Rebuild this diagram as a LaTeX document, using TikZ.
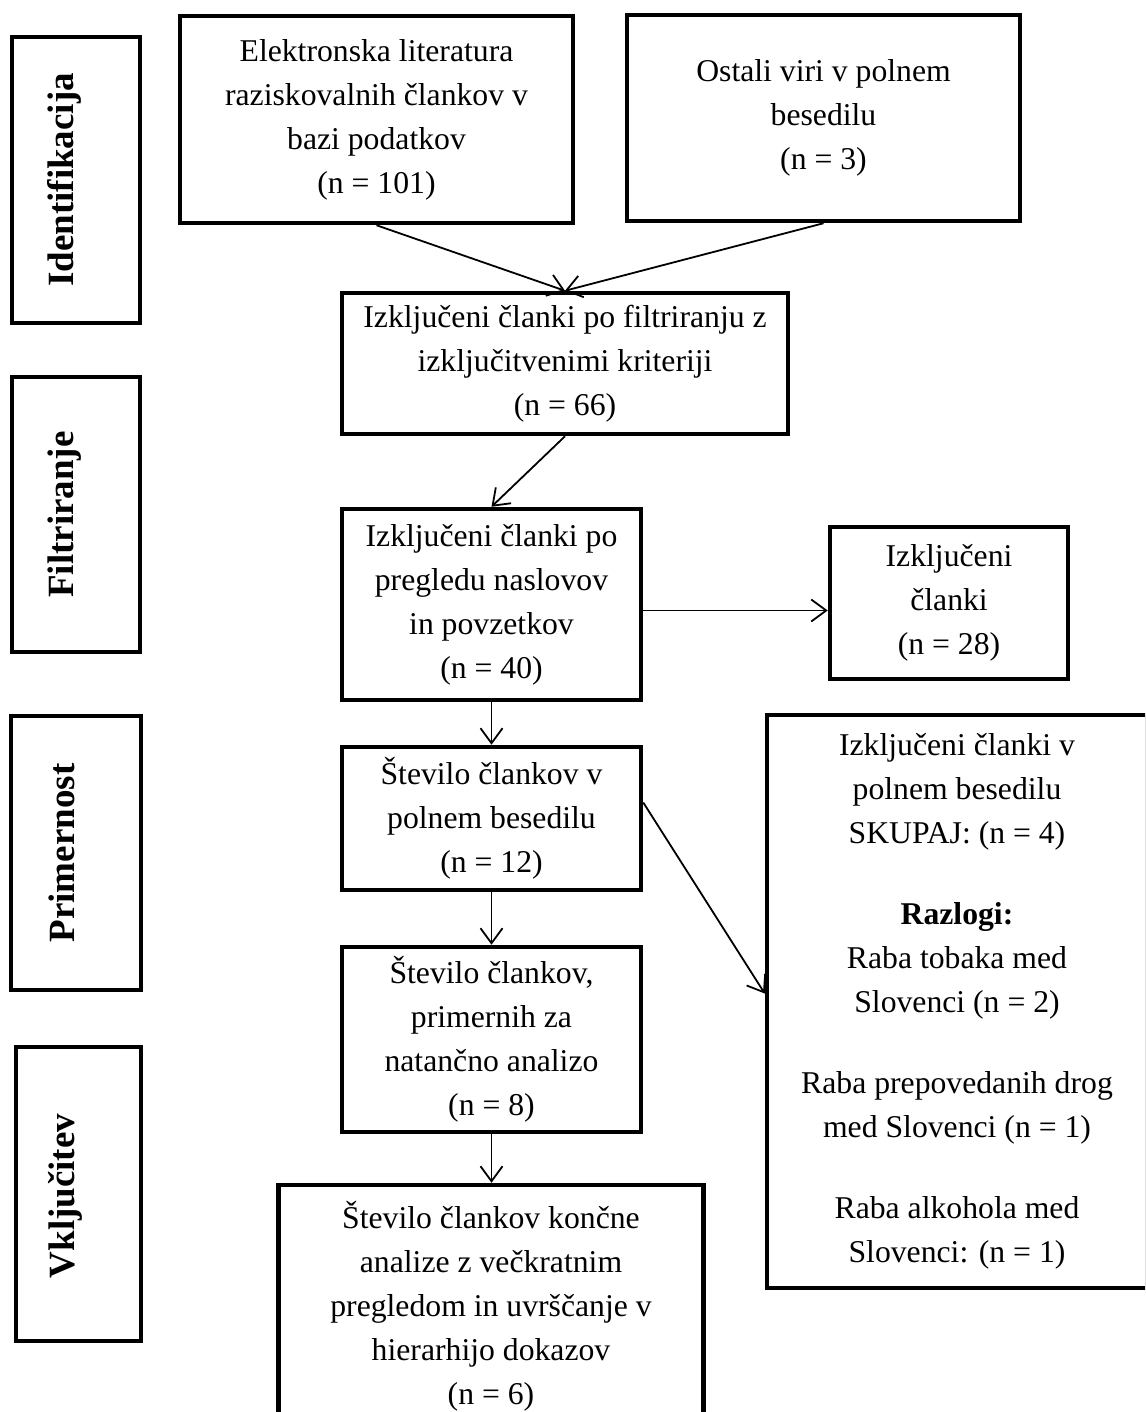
\documentclass[tikz,border=0pt]{standalone}
\usepackage{fontspec}
\setmainfont{Liberation Serif}
\usetikzlibrary{arrows.meta,calc}
\begin{document}
\begin{tikzpicture}[x=1pt,y=-1pt,
  box/.style={draw, line width=4.5pt, align=center, inner sep=0pt, font=\fontsize{31.7pt}{44pt}\selectfont},
  side/.style={draw, line width=4.5pt, inner sep=0pt},
  lab/.style={rotate=90, anchor=base, inner sep=0pt, font=\bfseries\fontsize{37pt}{44pt}\selectfont},
  arr/.style={line width=1.8pt, -{Straight Barb[length=15pt,width=22pt,line width=1.8pt]}}
]
\useasboundingbox (0,0) rectangle (1145,1412);
\clip (0,0) rectangle (1145,1412);
\fill[white] (0,0) rectangle (1145,1412);

% side boxes
\node[side, minimum width=128pt, minimum height=286pt] (s1) at (76,180) {};
\node[side, minimum width=128pt, minimum height=275pt] (s2) at (76,514.5) {};
\node[side, minimum width=130pt, minimum height=274pt] (s3) at (76,853) {};
\node[side, minimum width=125pt, minimum height=294pt] (s4) at (78.5,1194) {};
\node[lab] (l1) at (73,180) {Identifikacija};
\node[lab] (l2) at (73,514.5) {Filtriranje};
\node[lab] (l3) at (74,853) {Primernost};
\node[lab] (l4) at (74,1196) {Vključitev};

% main boxes
\node[box, minimum width=393pt, minimum height=207pt] (A) at (376.5,119.5)
  {Elektronska literatura\\ raziskovalnih člankov v\\ bazi podatkov\\ (n = 101)};
\node[box, minimum width=393pt, minimum height=206pt] (B) at (823.5,118)
  {Ostali viri v polnem\\ besedilu\\ (n = 3)};
\node[box, minimum width=446pt, minimum height=141pt] (C) at (565,363.5)
  {Izključeni članki po filtriranju z\\ izključitvenimi kriteriji\\ (n = 66)};
\node[box, minimum width=299pt, minimum height=191pt] (D) at (491.5,604.5)
  {Izključeni članki po\\ pregledu naslovov\\ in povzetkov\\ (n = 40)};
\node[box, minimum width=238pt, minimum height=152pt] (H) at (949,603)
  {Izključeni\\ članki\\ (n = 28)};
\node[box, minimum width=299pt, minimum height=143pt] (E) at (491.5,818.5)
  {Število člankov v\\ polnem besedilu\\ (n = 12)};
\node[box, minimum width=299pt, minimum height=185pt] (F) at (491.5,1039.5)
  {Število člankov,\\ primernih za\\ natančno analizo\\ (n = 8)};
\node[box, minimum width=425pt, minimum height=243pt] (G) at (491,1306.5)
  {Število člankov končne\\ analize z večkratnim\\ pregledom in uvrščanje v\\ hierarhijo dokazov\\ (n = 6)};
\node[box, minimum width=380pt, minimum height=573pt] (I) at (957,1001.5)
  {Izključeni članki v\\ polnem besedilu\\ SKUPAJ: (n = 4)\\[37pt]
   \textbf{Razlogi:}\\ Raba tobaka med\\ Slovenci (n = 2)\\[37pt]
   Raba prepovedanih drog\\ med Slovenci (n = 1)\\[37pt]
   Raba alkohola med\\ Slovenci: (n = 1)};

% connectors
\draw[arr] (A.south) -- (C.north);
\draw[arr] (B.south) -- (C.north);
\draw[arr] (C.south) -- (D.north);
\draw[arr] ([yshift=-6pt]D.east) -- ([yshift=-6pt]D.east -| H.west);
\draw[arr] (D.south) -- (E.north);
\draw[arr] ([yshift=16pt]E.east) -- ([yshift=8pt]I.west);
\draw[arr] (E.south) -- (F.north);
\draw[arr] (F.south) -- (F.south |- G.north);
\end{tikzpicture}
\end{document}
